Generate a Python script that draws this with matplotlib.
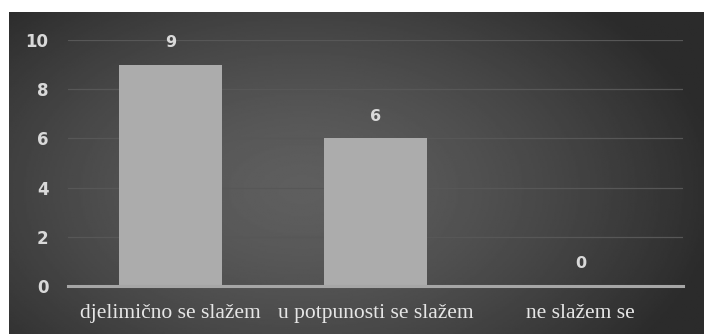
import numpy as np
import matplotlib
matplotlib.use("Agg")
import matplotlib.pyplot as plt

categories = ["djelimično se slažem", "u potpunosti se slažem", "ne slažem se"]
values = [9, 6, 0]
yticks = [0, 2, 4, 6, 8, 10]

W, H = 704, 334
fig = plt.figure(figsize=(W / 100, H / 100), dpi=100)
fig.patch.set_facecolor("white")

# background radial gradient panel
bg = fig.add_axes([9 / W, 0, (W - 9) / W, (H - 12) / H])
bg.set_axis_off()
ny, nx = 200, 400
yy, xx = np.mgrid[0:ny, 0:nx]
cx, cy = nx * 0.42, ny * 0.55
r = np.sqrt(((xx - cx) / (nx * 0.6)) ** 2 + ((yy - cy) / (ny * 0.8)) ** 2)
r = np.clip(r, 0, 1)
light, dark = 0.37, 0.17
img = light - (light - dark) * r ** 1.5
bg.imshow(img, cmap="gray", vmin=0, vmax=1, aspect="auto", extent=[0, 1, 0, 1])

ax = fig.add_axes([68 / W, (H - 286) / H, (683 - 68) / W, (286 - 40) / H])
ax.patch.set_alpha(0)
x = np.arange(len(categories))
ax.bar(x, values, width=0.5, color="#acacac", zorder=3)
ax.set_xlim(-0.5, len(categories) - 0.5)
ax.set_ylim(0, 10)
ax.set_yticks(yticks)
ax.set_yticklabels([str(t) for t in yticks], fontsize=12, fontweight="bold",
                   color="#d9d9d9", family="DejaVu Sans")
ax.set_xticks(x)
ax.set_xticklabels(categories, fontsize=15.5, color="#e6e6e6", family="Liberation Serif")
ax.tick_params(axis="both", length=0)
ax.tick_params(axis="y", pad=14)
ax.tick_params(axis="x", pad=13)
for s in ["top", "right", "left"]:
    ax.spines[s].set_visible(False)
ax.spines["bottom"].set_color("#a6a6a6")
ax.spines["bottom"].set_linewidth(2.2)
ax.spines["bottom"].set_zorder(4)
ax.grid(axis="y", color="#575757", linewidth=0.9, zorder=1)
ax.set_axisbelow(True)

for xi, v in zip(x, values):
    ax.annotate(str(v), (xi, v), xytext=(0, 16), textcoords="offset points",
                ha="center", va="center", fontsize=11.5, fontweight="bold",
                color="#d9d9d9", family="DejaVu Sans")

fig.savefig("out.png", dpi=100)
